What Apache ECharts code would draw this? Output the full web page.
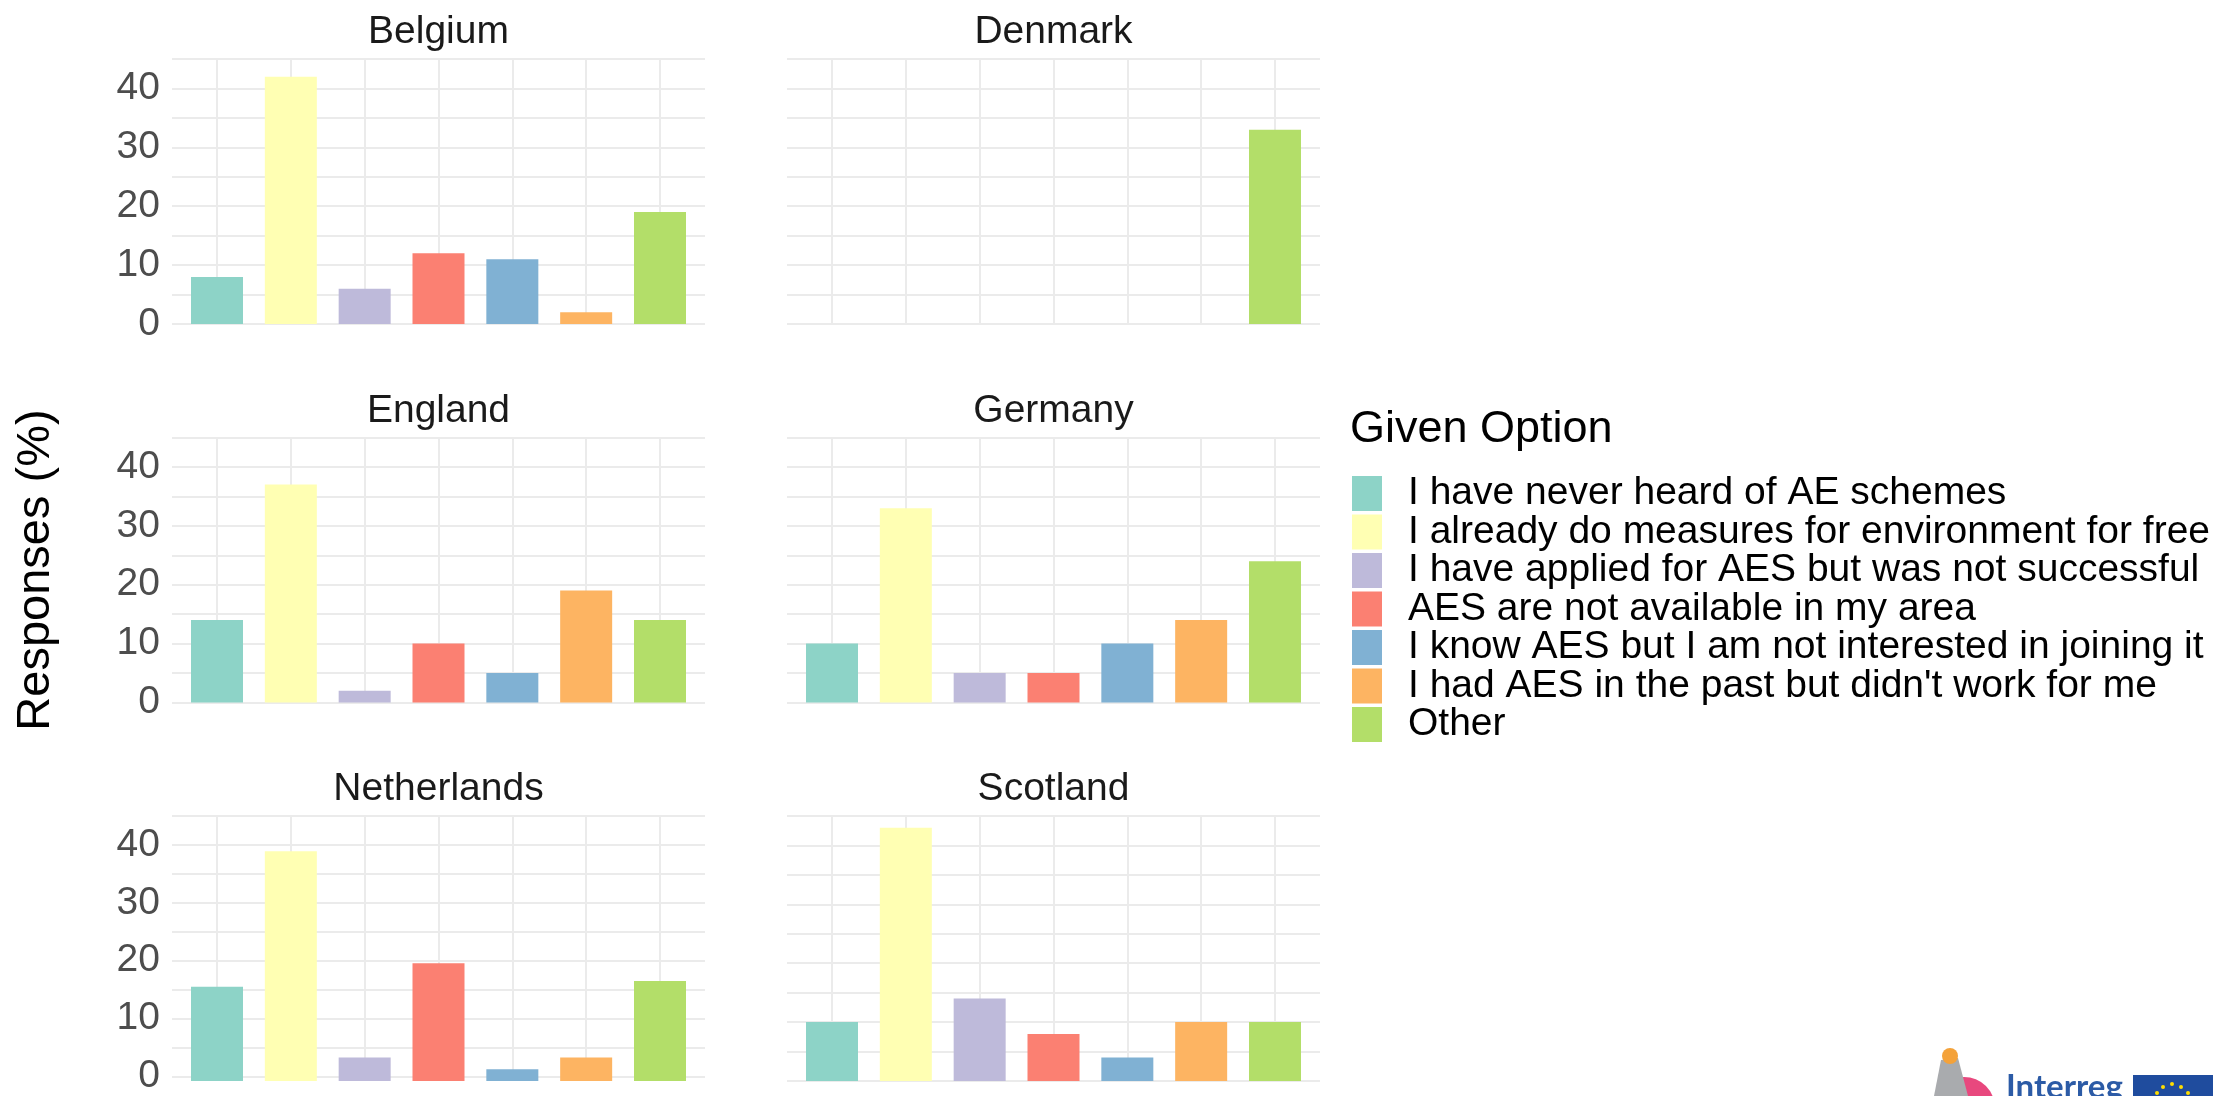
<!DOCTYPE html>
<html>
<head>
<meta charset="utf-8">
<script src="https://cdn.jsdelivr.net/npm/echarts@6/dist/echarts.min.js"></script>
<style>
    html, body { margin: 0; padding: 0; background: #fff; }
    #chart { width: 2229px; height: 1096px; }
</style>
</head>
<body>
<div id="chart"></div>
<script>
// facet panels, in reading order
const countries = ['Belgium', 'Denmark', 'England', 'Germany', 'Netherlands', 'Scotland'];
const givenOptions = [
    'I have never heard of AE schemes',
    'I already do measures for environment for free',
    'I have applied for AES but was not successful',
    'AES are not available in my area',
    'I know AES but I am not interested in joining it',
    "I had AES in the past but didn't work for me",
    'Other'
];
const optionColors = ['#8DD3C7', '#FFFFB3', '#BEBADA', '#FB8072', '#80B1D3', '#FDB462', '#B3DE69'];

// responses (%) per country, same order as givenOptions
const belgium = [8, 42, 6, 12, 11, 2, 19];
const denmark = [0, 0, 0, 0, 0, 0, 33];
const england = [14, 37, 2, 10, 5, 19, 14];
const germany = [10, 33, 5, 5, 10, 14, 24];
const netherlands = [16, 39, 4, 20, 2, 4, 17];
const scotland = [10, 43, 14, 8, 4, 10, 10];
const panelValues = [belgium, denmark, england, germany, netherlands, scotland];

const yMin = 0;
const yMax = 45;
const yStep = 5;      // grid lines every 5, labels every 10

// panel geometry (px)
const colLeft = [172, 787];
const rowTop = [59, 437.5, 816];
const panelW = 533;
const panelH = 265;
const pad = 45;       // ggplot discrete expansion on each side

const FONT = 'Liberation Sans, Arial, sans-serif';
const gridColor = '#EBEBEB';

let grids = [], xAxes = [], yAxes = [], titles = [], series = [];

countries.forEach(function (name, k) {
    let r = Math.floor(k / 2), c = k % 2;
    let left = colLeft[c], top = rowTop[r];

    // outer grid: horizontal grid lines + y labels
    grids.push({left: left, top: top, width: panelW, height: panelH});
    // inner grid: category positions from first to last bar
    grids.push({left: left + pad, top: top, width: panelW - 2 * pad, height: panelH});

    xAxes.push({gridIndex: 2 * k, type: 'value', min: 0, max: 1, show: false});
    xAxes.push({
        gridIndex: 2 * k + 1, type: 'category', data: givenOptions, boundaryGap: false,
        axisLine: {show: false}, axisTick: {show: false}, axisLabel: {show: false},
        splitLine: {show: true, interval: 0, lineStyle: {color: gridColor, width: 2}}
    });

    let yMain = {
        gridIndex: 2 * k, type: 'value', min: yMin, max: yMax, interval: yStep,
        axisLine: {show: false}, axisTick: {show: false},
        splitLine: {show: true, lineStyle: {color: gridColor, width: 2}},
        axisLabel: {
            show: c === 0, margin: 12, fontSize: 39, color: '#4D4D4D', fontFamily: FONT,
            formatter: function (v) { return v % 10 === 0 ? v : ''; }
        }
    };
    if (k === 2) {
        yMain.name = 'Responses (%)';
        yMain.nameLocation = 'middle';
        yMain.nameRotate = 90;
        yMain.nameGap = 112;
        yMain.nameTextStyle = {fontSize: 47, color: '#000', fontFamily: FONT};
    }
    yAxes.push(yMain);
    yAxes.push({gridIndex: 2 * k + 1, type: 'value', min: yMin, max: yMax, show: false});

    titles.push({
        text: name, left: left + panelW / 2, top: top - 46, textAlign: 'center', padding: 0,
        textStyle: {fontSize: 39, lineHeight: 39, fontWeight: 'normal', color: '#1A1A1A', fontFamily: FONT}
    });

    // one series per option so the legend can list them
    givenOptions.forEach(function (opt, i) {
        series.push({
            name: opt, type: 'bar',
            xAxisIndex: 2 * k + 1, yAxisIndex: 2 * k + 1,
            data: panelValues[k].map(function (v, j) { return j === i ? v : '-'; }),
            barWidth: 52, barGap: '-100%', clip: false,
            itemStyle: {color: optionColors[i]},
            silent: true
        });
    });
});

titles.push({
    text: 'Given Option', left: 1350, top: 407, padding: 0,
    textStyle: {fontSize: 45, lineHeight: 45, fontWeight: 'normal', color: '#000', fontFamily: FONT}
});

let chart = echarts.init(document.getElementById('chart'));
chart.setOption({
    animation: false,
    backgroundColor: '#fff',
    title: titles,
    legend: {
        data: givenOptions, orient: 'vertical', left: 1352, top: 474, padding: 0,
        icon: 'rect', itemWidth: 30, itemHeight: 35, itemGap: -0.5, selectedMode: false,
        textStyle: {fontSize: 39, lineHeight: 35, color: '#000', fontFamily: FONT, padding: [0, 0, 0, 21]}
    },
    grid: grids,
    xAxis: xAxes,
    yAxis: yAxes,
    series: series,
    graphic: [
        // funder logo, cut off at the bottom right
        {type: 'circle', shape: {cx: 1964, cy: 1108, r: 31}, style: {fill: '#E8487E'}, silent: true},
        {type: 'polygon', shape: {points: [[1941, 1060], [1958, 1058], [1968, 1096], [1934, 1096]]},
            style: {fill: '#A9ABAE'}, silent: true},
        {type: 'circle', shape: {cx: 1950, cy: 1056, r: 8}, style: {fill: '#F4A23A'}, silent: true},
        {type: 'text', x: 2006, y: 1071, style: {text: 'Interreg', font: 'bold 33px Lato, sans-serif',
            fill: '#2C5BA6', textVerticalAlign: 'top'}, silent: true},
        {type: 'rect', shape: {x: 2133, y: 1075, width: 80, height: 40}, style: {fill: '#1F4C9E'}, silent: true},
        {type: 'circle', shape: {cx: 2163, cy: 1087, r: 2}, style: {fill: '#FFDD00'}, silent: true},
        {type: 'circle', shape: {cx: 2172, cy: 1084, r: 2}, style: {fill: '#FFDD00'}, silent: true},
        {type: 'circle', shape: {cx: 2181, cy: 1087, r: 2}, style: {fill: '#FFDD00'}, silent: true},
        {type: 'circle', shape: {cx: 2157, cy: 1093, r: 2}, style: {fill: '#FFDD00'}, silent: true},
        {type: 'circle', shape: {cx: 2188, cy: 1093, r: 2}, style: {fill: '#FFDD00'}, silent: true}
    ]
});
</script>
</body>
</html>
